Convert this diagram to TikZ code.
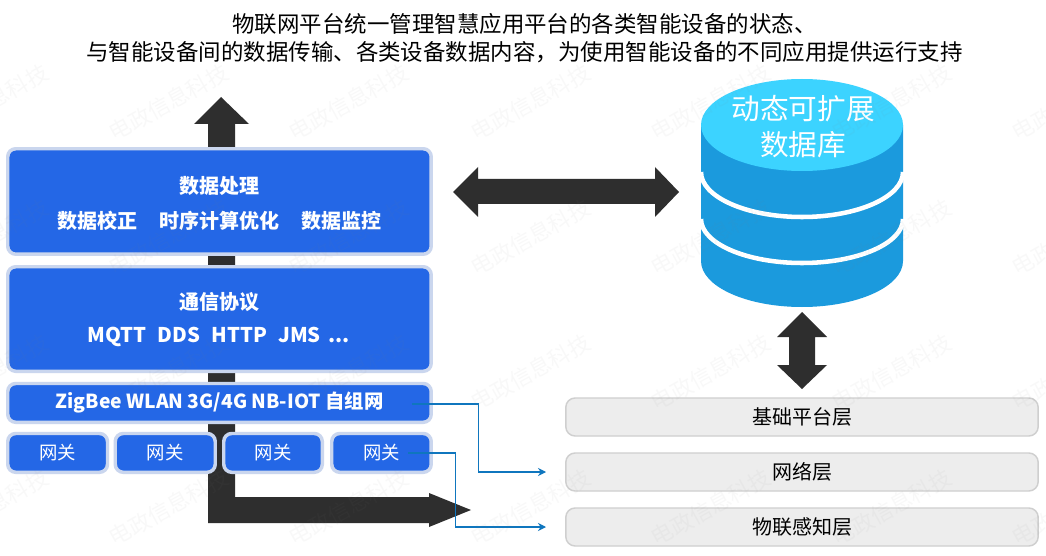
\documentclass[tikz,border=0pt]{standalone}
\usepackage{fontspec}
\usetikzlibrary{arrows.meta}
\setmainfont{Noto Sans CJK SC}
\begin{document}
\begin{tikzpicture}[x=0.75pt,y=-0.75pt,
  bluebox/.style={draw=boxedge,line width=2.6pt,fill=boxblue,rounded corners=6pt,text=white,inner sep=0pt,outer sep=0pt,align=center,anchor=north west},
  layerbox/.style={draw=layeredge,line width=1.1pt,fill=layerfill,rounded corners=7pt,inner sep=0pt,outer sep=0pt,anchor=north west,minimum width=354.3pt,minimum height=28.5pt,text=black,font=\fontsize{15}{15}\selectfont},
  headtext/.style={font=\fontsize{15}{15}\selectfont\bfseries,text=white},
  bigarrow/.style={fill=arrowdark,draw=none},
  link/.style={draw=linkblue,line width=0.9pt,-{Stealth[length=6pt,width=6pt]}},
  mark text/.style={text=gray,opacity=0.05,rotate=29,font=\fontsize{16.5}{17}\selectfont}]
\definecolor{boxblue}{HTML}{2467E6}
\definecolor{boxedge}{HTML}{CAD6EE}
\definecolor{layeredge}{HTML}{CFCFCF}
\definecolor{layerfill}{HTML}{EDEDED}
\definecolor{arrowdark}{HTML}{2E2E2E}
\definecolor{linkblue}{HTML}{0F76BE}
\definecolor{dbbody}{HTML}{1B9ADD}
\definecolor{dbtop}{HTML}{3CD3FF}
\useasboundingbox (0,0) rectangle (1046,556);
\fill[white] (0,0) rectangle (1046,556);
% title
\node[font=\fontsize{16.85}{21}\selectfont,align=center,text=black] (title) at (524.5,38) {物联网平台统一管理智慧应用平台的各类智能设备的状态、\\与智能设备间的数据传输、各类设备数据内容，为使用智能设备的不同应用提供运行支持};
% dark arrows
\fill[bigarrow] (221,97)--(249,124)--(235,124)--(235,497)--(429,497)--(429,493)--(471,510)--(429,527)--(429,523)--(208,523)--(208,124)--(194,124)--cycle;
\fill[bigarrow] (453,192)--(478,167)--(478,179)--(655,179)--(655,167)--(679,192)--(655,217)--(655,204)--(478,204)--(478,217)--cycle;
\fill[bigarrow] (802,312)--(827,337)--(815,337)--(815,365)--(827,365)--(802,389)--(777,365)--(789,365)--(789,337)--(777,337)--cycle;
% boxes
\node[bluebox,minimum width=317.6pt,minimum height=79.1pt] (proc) at (7.75,148.75) {};
\node[headtext] (proct) at (219.5,185.5) {数据处理};
\node[headtext] (proca) at (97.5,220.5) {数据校正};
\node[headtext] (procb) at (219.5,220.5) {时序计算优化};
\node[headtext] (procc) at (341.5,220.5) {数据监控};
\node[bluebox,minimum width=317.6pt,minimum height=78.4pt] (comm) at (7.75,266.75) {};
\node[headtext] (commt) at (219.5,302.5) {通信协议};
\node[headtext,font=\fontsize{15.2}{15}\selectfont\bfseries] (commp) at (219,337) {MQTT\hspace{8.3pt}DDS\hspace{8.3pt}HTTP\hspace{8.3pt}JMS\hspace{6pt}...};
\node[bluebox,minimum width=317.6pt,minimum height=29.1pt,font=\fontsize{14.5}{14.5}\selectfont\bfseries] (net) at (7.75,383.5) {ZigBee WLAN 3G/4G NB-IOT 自组网};
\foreach \n/\x/\w in {g1/7.75/74.8,g2/115.25/75,g3/223.75/73.9,g4/331.75/74.6}{
  \node[bluebox,minimum width=\w pt,minimum height=29.1pt,font=\fontsize{13.8}{13.8}\selectfont] (\n) at (\x,433.5) {网关};
}
% database
\fill[dbbody] (701,125) -- (701,261) arc[start angle=180,end angle=360,x radius=101,y radius=-46] -- (903,125) -- cycle;
\draw[white,line width=3.4pt] (701,172) arc[start angle=180,end angle=360,x radius=101,y radius=-45];
\draw[white,line width=3.4pt] (701,219) arc[start angle=180,end angle=360,x radius=101,y radius=-44];
\fill[dbtop] (802,125) ellipse[x radius=101,y radius=46];
\node[font=\fontsize{21.5}{27}\selectfont,text=white,align=center] (db) at (803,127) {动态可扩展\\数据库};
% layers
\node[layerbox] (l1) at (565.8,398) {基础平台层};
\node[layerbox] (l2) at (565.8,453) {网络层};
\node[layerbox] (l3) at (565.8,508) {物联感知层};
% links
\coordinate (n1) at (412,404);
\coordinate (n2) at (546,472);
\coordinate (n3) at (408,453);
\coordinate (n4) at (546,527);
\draw[link] (n1) -| (478.5,472) -- (n2);
\draw[link] (n3) -| (455.7,527) -- (n4);
% marks
\foreach \x in {-11.5,168.5,348.5,530.5,710.5,891.5,1071.5}{
  \foreach \y in {102.5,237.5,372.5,507.5}{
    \node[mark text] at (\x,\y) {电政信息科技};
  }
}
\end{tikzpicture}
\end{document}
